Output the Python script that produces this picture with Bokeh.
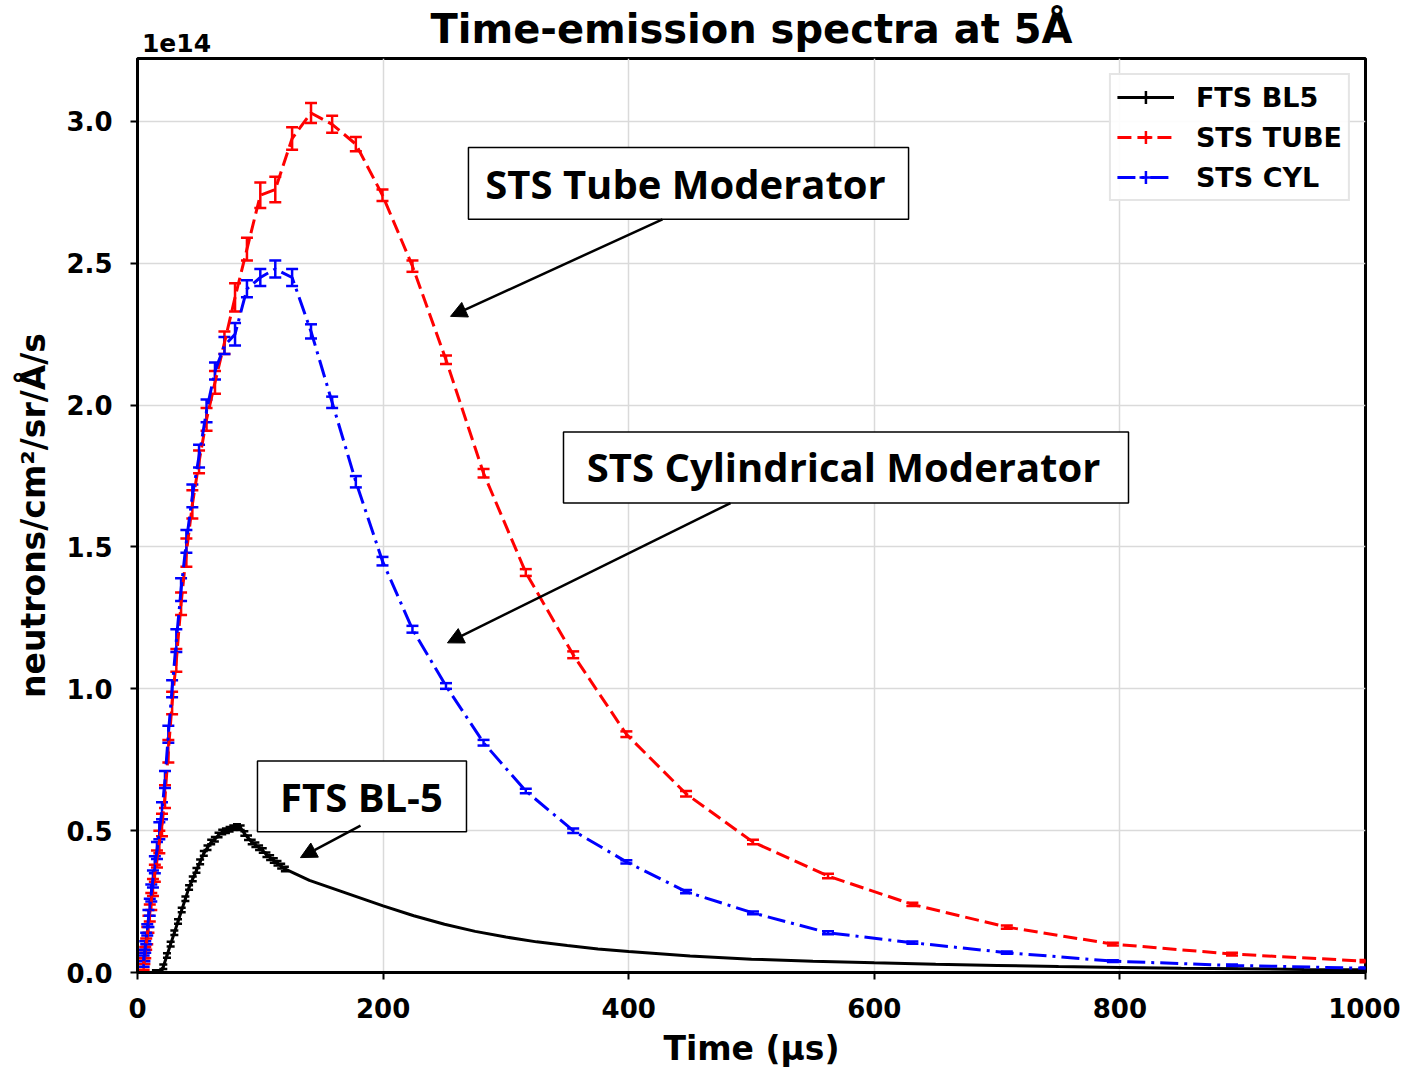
import numpy as np
from bokeh.plotting import figure
from bokeh.models import (ColumnDataSource, Whisker, TeeHead, Legend, LegendItem, FixedTicker,
                          NumeralTickFormatter, Label, BoxAnnotation, Arrow, NormalHead, Range1d,
                          LinearAxis)
from bokeh.embed import file_html
from bokeh.resources import INLINE

# ---------------- data (values in units of 1e14 neutrons/cm2/sr/A/s) ----------------
STS_T = [5.01, 5.62, 6.31, 7.08, 7.94, 8.91, 10.0, 11.22, 12.59, 14.13, 15.85, 17.78,
         19.95, 22.39, 25.12, 28.18, 31.62, 35.48, 39.81, 44.67, 50.12, 56.23, 63.10, 70.79,
         79.43, 89.13, 100.0, 112.2, 125.9, 141.3, 158.5, 177.8, 199.5, 223.9, 251.2, 281.8,
         316.2, 354.8, 398.1, 446.7, 501.2, 562.3, 631.0, 707.9, 794.3, 891.3, 1000.0]

TUBE_Y = [0.03, 0.05, 0.07, 0.10, 0.13, 0.17, 0.21, 0.25, 0.30, 0.35, 0.40, 0.46,
          0.52, 0.62, 0.78, 0.95, 1.10, 1.30, 1.48, 1.65, 1.80, 1.95, 2.08, 2.22, 2.38, 2.55,
          2.74, 2.76, 2.94, 3.03, 2.99, 2.92, 2.74, 2.49, 2.16, 1.76, 1.41, 1.12, 0.84, 0.63,
          0.46, 0.34, 0.24, 0.16, 0.10, 0.065, 0.04]
TUBE_ERR = [0.02, 0.02, 0.02, 0.02, 0.03, 0.03, 0.03, 0.03, 0.03, 0.03, 0.03, 0.04,
            0.04, 0.04, 0.04, 0.04, 0.04, 0.04, 0.05, 0.05, 0.04, 0.04, 0.04, 0.04, 0.05, 0.04,
            0.045, 0.045, 0.04, 0.035, 0.03, 0.025, 0.02, 0.02, 0.015, 0.015, 0.012, 0.012,
            0.01, 0.01, 0.008, 0.008, 0.006, 0.006, 0.005, 0.005, 0.004]

CYL_Y = [0.04, 0.06, 0.09, 0.12, 0.15, 0.19, 0.23, 0.28, 0.33, 0.38, 0.43, 0.50,
         0.57, 0.68, 0.84, 1.00, 1.17, 1.35, 1.52, 1.68, 1.82, 1.98, 2.12, 2.21, 2.25, 2.41,
         2.45, 2.48, 2.45, 2.26, 2.01, 1.73, 1.45, 1.21, 1.01, 0.81, 0.64, 0.50, 0.39, 0.285,
         0.21, 0.14, 0.105, 0.07, 0.04, 0.025, 0.015]
CYL_ERR = [0.02, 0.02, 0.02, 0.02, 0.02, 0.03, 0.03, 0.03, 0.03, 0.03, 0.03, 0.03,
           0.03, 0.03, 0.03, 0.03, 0.04, 0.04, 0.04, 0.04, 0.04, 0.04, 0.03, 0.03, 0.04, 0.03,
           0.03, 0.03, 0.03, 0.025, 0.02, 0.02, 0.015, 0.012, 0.01, 0.01, 0.008, 0.008,
           0.006, 0.006, 0.005, 0.005, 0.004, 0.004, 0.003, 0.003, 0.003]

BL5_T = [15, 18, 21, 24, 27, 30, 33, 36, 39, 42, 45, 48, 51, 54, 57, 60, 63, 66, 69, 72,
         75, 78, 81, 84, 87, 90, 93, 96, 99, 102, 105, 108, 111, 114, 117, 120,
         130, 140, 150, 160, 170, 180, 190, 200, 225, 250, 275, 300, 325, 350, 375, 400,
         450, 500, 550, 600, 650, 700, 750, 800, 850, 900, 950, 1000]
BL5_Y = [0.0, 0.0, 0.02, 0.06, 0.10, 0.14, 0.18, 0.22, 0.26, 0.30, 0.33, 0.36, 0.39, 0.42,
         0.44, 0.46, 0.47, 0.485, 0.495, 0.50, 0.505, 0.51, 0.515, 0.51, 0.49, 0.475, 0.46,
         0.45, 0.44, 0.43, 0.415, 0.405, 0.395, 0.385, 0.375, 0.365,
         0.345, 0.325, 0.31, 0.295, 0.28, 0.265, 0.25, 0.235, 0.20, 0.17, 0.145, 0.125,
         0.108, 0.095, 0.083, 0.074, 0.058, 0.047, 0.040, 0.034, 0.029, 0.025, 0.021, 0.018,
         0.015, 0.013, 0.011, 0.010]
BL5_ERR = [0.008] * 36 + [0.0] * 28

SERIES_LABELS = ["FTS BL5", "STS TUBE", "STS CYL"]
X_TICKS = [0, 200, 400, 600, 800, 1000]
Y_TICKS = [0.0, 0.5, 1.0, 1.5, 2.0, 2.5, 3.0]

TITLE = "Time-emission spectra at 5Å"
X_LABEL = "Time (µs)"
Y_LABEL = "neutrons/cm²/sr/Å/s"
OFFSET_TEXT = "1e14"
OFFSET_TEXT_X = 31.8   # horizontal anchor (data units) of the offset text above the frame

# annotation boxes: (text, left, right, bottom, top, text_x, text_y, arrow_x0, arrow_y0, arrow_x1, arrow_y1)
ANNOTATIONS = [
    ("STS Tube Moderator", 269.5, 627.9, 2.655, 2.908, 446.3, 2.782, 427.5, 2.655, 254.9, 2.313),
    ("STS Cylindrical Moderator", 346.9, 807.0, 1.655, 1.905, 575.0, 1.782, 482.9, 1.655, 252.4, 1.162),
    ("FTS BL-5", 97.7, 267.9, 0.496, 0.746, 182.4, 0.62, 181.6, 0.518, 132.7, 0.405),
]

X_MAX = 1000
Y_MAX = 3.222

# ---------------- figure ----------------
FONT = "DejaVu Sans"
p = figure(width=1400, height=1070, output_backend="svg", toolbar_location=None,
           x_range=Range1d(0, X_MAX), y_range=Range1d(0, Y_MAX))
p.min_border_left = 137
p.min_border_right = 35
p.min_border_top = 58
p.min_border_bottom = 97

p.outline_line_color = "black"
p.outline_line_width = 3
p.outline_line_alpha = 1.0

for ax in (p.xaxis, p.yaxis):
    ax.axis_line_width = 3
    ax.axis_line_color = "black"
    ax.major_tick_line_width = 2
    ax.major_tick_out = 7
    ax.major_tick_in = 0
    ax.minor_tick_line_color = None
    ax.major_label_text_font = FONT
    ax.major_label_text_font_style = "bold"
    ax.major_label_text_font_size = "26px"
    ax.major_label_text_color = "black"
    ax.axis_label_text_font = FONT
    ax.axis_label_text_font_style = "bold"
    ax.axis_label_text_font_size = "33px"
    ax.axis_label_text_color = "black"

p.xaxis.ticker = FixedTicker(ticks=X_TICKS)
p.yaxis.ticker = FixedTicker(ticks=Y_TICKS)
p.xaxis.formatter = NumeralTickFormatter(format="0")
p.yaxis.formatter = NumeralTickFormatter(format="0.0")
p.xaxis.axis_label = X_LABEL
p.yaxis.axis_label = Y_LABEL
p.xaxis.major_label_standoff = 18
p.yaxis.major_label_standoff = 18
p.xaxis.axis_label_standoff = 8
p.yaxis.axis_label_standoff = 10

p.xgrid.ticker = FixedTicker(ticks=X_TICKS)
p.ygrid.ticker = FixedTicker(ticks=Y_TICKS)
p.grid.grid_line_color = "#dadada"
p.grid.grid_line_width = 1.5

# top band: offset text "1e14" (as the only tick label) and the chart title (as the axis label)
top = LinearAxis(ticker=FixedTicker(ticks=[OFFSET_TEXT_X]),
                 major_label_overrides={OFFSET_TEXT_X: OFFSET_TEXT},
                 axis_line_color=None, major_tick_line_color=None, minor_tick_line_color=None,
                 major_tick_out=0, major_tick_in=0, major_label_standoff=7,
                 major_label_text_font=FONT, major_label_text_font_style="bold",
                 major_label_text_font_size="25px", major_label_text_color="black",
                 axis_label=TITLE, axis_label_standoff=-21,
                 axis_label_text_font=FONT, axis_label_text_font_style="bold",
                 axis_label_text_font_size="40px", axis_label_text_color="black")
p.add_layout(top, "above")

# ---------------- series ----------------
def add_series(t, y, err, color, dash, lw=3, cap=12):
    t = np.asarray(t, dtype=float)
    y = np.asarray(y, dtype=float)
    err = np.asarray(err, dtype=float)
    src = ColumnDataSource(dict(x=t, y=y))
    r = p.line("x", "y", source=src, line_color=color, line_width=lw, line_dash=dash)
    m = err > 0
    wsrc = ColumnDataSource(dict(x=t[m], lo=(y - err)[m], hi=(y + err)[m]))
    w = Whisker(source=wsrc, base="x", lower="lo", upper="hi", dimension="height",
                line_color=color, line_width=2.5,
                lower_head=TeeHead(size=cap, line_color=color, line_width=2.5),
                upper_head=TeeHead(size=cap, line_color=color, line_width=2.5))
    p.add_layout(w)
    # legend-only key mark (error-bar cross); a single NaN row so nothing shows in the plot
    proxy = p.scatter(x="x", y="y", source=ColumnDataSource(dict(x=[np.nan], y=[np.nan])),
                      marker="cross", size=14, line_color=color, line_width=2.5)
    return [r, proxy]

r_bl5 = add_series(BL5_T, BL5_Y, BL5_ERR, "black", "solid", lw=3, cap=8)
r_tube = add_series(STS_T, TUBE_Y, TUBE_ERR, "red", "14 6", lw=3, cap=12)
r_cyl = add_series(STS_T, CYL_Y, CYL_ERR, "blue", "18 6 3 6", lw=3, cap=12)

legend = Legend(items=[LegendItem(label=SERIES_LABELS[0], renderers=r_bl5),
                       LegendItem(label=SERIES_LABELS[1], renderers=r_tube),
                       LegendItem(label=SERIES_LABELS[2], renderers=r_cyl)],
                location="top_right")
legend.label_text_font = FONT
legend.label_text_font_style = "bold"
legend.label_text_font_size = "27px"
legend.label_text_color = "black"
legend.glyph_width = 57
legend.glyph_height = 32
legend.label_height = 30
legend.spacing = 8
legend.padding = 6
legend.margin = 15
legend.label_standoff = 22
legend.border_line_color = "#cccccc"
legend.border_line_width = 2
legend.background_fill_alpha = 0.9
p.add_layout(legend)

# ---------------- annotations ----------------
for (txt, l, r, b, t, tx, ty, ax0, ay0, ax1, ay1) in ANNOTATIONS:
    p.add_layout(BoxAnnotation(left=l, right=r, bottom=b, top=t, fill_color="white",
                               fill_alpha=1.0, line_color="black", line_alpha=1.0,
                               line_width=1.5, level="annotation"))
    p.add_layout(Label(x=tx, y=ty, text=txt, text_align="center", text_baseline="middle",
                       text_font="Open Sans", text_font_style="bold", text_font_size="40px",
                       text_color="black"))
    p.add_layout(Arrow(x_start=ax0, y_start=ay0, x_end=ax1, y_end=ay1, line_width=2.5,
                       line_color="black",
                       end=NormalHead(size=16, fill_color="black", line_color="black")))

open("out.html", "w").write(file_html(p, INLINE))
